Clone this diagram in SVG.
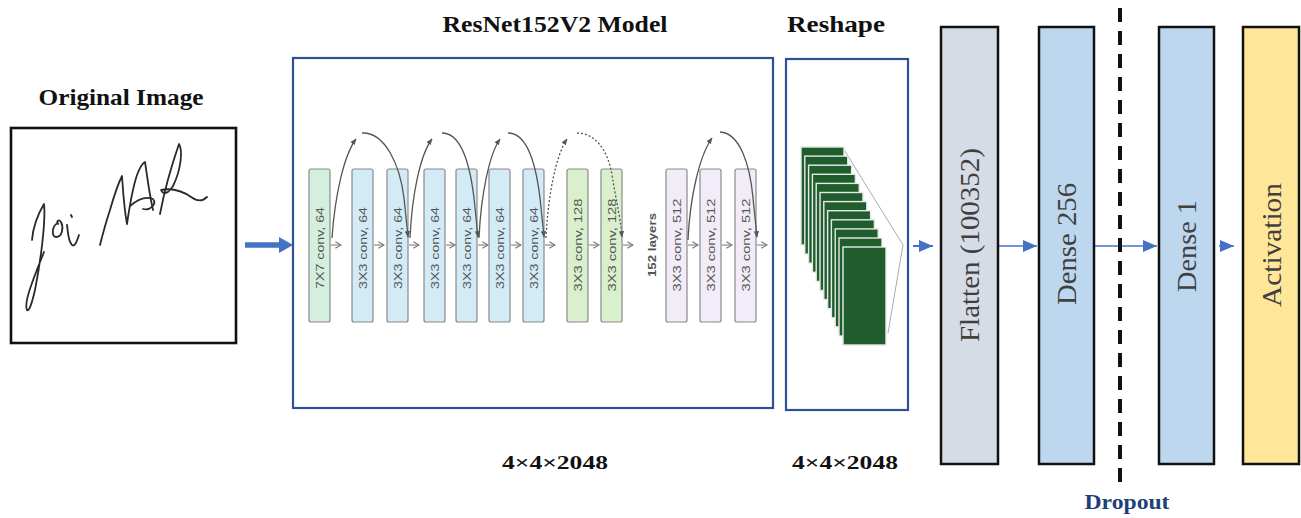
<svg xmlns="http://www.w3.org/2000/svg" width="1301" height="518" viewBox="0 0 1301 518">
<style>
.title{font-family:"Liberation Serif","Times New Roman",serif;font-weight:bold;fill:#111}
.big{font-family:"Liberation Serif","Times New Roman",serif;font-size:28px;fill:#404040}
.conv{font-family:"Liberation Sans",Arial,sans-serif;font-size:10.5px;fill:#555}
.blk{stroke:#8a8a8a;stroke-width:1.2}
.layer{fill:#1f5e2c;stroke:#e8e8e8;stroke-width:1.4}
.arc{fill:none;stroke:#555;stroke-width:1.3}
.small{fill:none;stroke:#777;stroke-width:1}
.outer{fill:#fff;stroke:#2f4f96;stroke-width:2.2}
.layerbox{stroke:#111;stroke-width:2.5}
</style>
<defs>
<marker id="ah" viewBox="0 0 10 10" refX="9" refY="5" markerWidth="5" markerHeight="5" orient="auto"><path d="M0,1 L10,5 L0,9 z" fill="#555"/></marker>
<marker id="sh" viewBox="0 0 10 10" refX="9" refY="5" markerWidth="8" markerHeight="8" markerUnits="userSpaceOnUse" orient="auto"><path d="M2,1 L9,5 L2,9" fill="none" stroke="#777" stroke-width="1.5"/></marker>
<marker id="bh" viewBox="0 0 10 10" refX="10" refY="5" markerWidth="14" markerHeight="12" markerUnits="userSpaceOnUse" orient="auto" preserveAspectRatio="none"><path d="M0,0 L10,5 L0,10 z" fill="#4472c4"/></marker>
</defs>

<g id="original-image">
<text class="title" x="121" y="105" font-size="23" text-anchor="middle" textLength="165" lengthAdjust="spacingAndGlyphs">Original Image</text>
<rect x="11" y="128" width="225" height="215" fill="#fff" stroke="#111" stroke-width="2.6"/>
<g fill="none" stroke="#2a2a2a" stroke-width="1.8" stroke-linecap="round" stroke-linejoin="round">
<path d="M32,240 C33,228 38,214 44,204 C46,222 40,265 35,290 C32,303 29,312 27,310 C25,306 28,294 32,283 C36,272 40,262 44,252"/>
<path d="M58,223 C52,225 51,237 56,237 C62,237 64,228 61,222 C59,219 56,221 58,224"/>
<path d="M67,225 C68,232 68,241 72,245 C75,247 77,241 79,235"/>
<path d="M71,215 l1,2"/>
<path d="M100,245 C103,233 106,222 110,210 C114,196 118,184 122,176 C123,190 124,208 127,224 C129,210 132,190 137,175 C140,167 143,163 145,162 C147,175 149,192 153,210"/>
<path d="M130,206 C137,200 146,196 153,199 C157,204 150,211 143,209"/>
<path d="M160,214 C163,198 170,170 179,144 C183,150 181,170 173,186 C168,194 163,195 161,190 C171,188 181,190 191,197 C198,202 203,201 207,197"/>
</g>
</g>

<g id="connectors">
<line x1="245" y1="245" x2="280" y2="245" stroke="#4472c4" stroke-width="5.5"/>
<path d="M279,237 L293,245 L279,253 z" fill="#4472c4"/>
<path d="M913,246 L933,246" stroke="#4472c4" stroke-width="2" marker-end="url(#bh)"/>
<path d="M999,246 L1037,246" stroke="#4472c4" stroke-width="1.5" marker-end="url(#bh)"/>
<path d="M1094,246 L1157,246" stroke="#4472c4" stroke-width="1.5" marker-end="url(#bh)"/>
<path d="M1219,246 L1234,246" stroke="#4472c4" stroke-width="1.5" marker-end="url(#bh)"/>
<line x1="1120" y1="8" x2="1120" y2="490" stroke="#111" stroke-width="4" stroke-dasharray="14,9"/>
</g>

<g id="resnet">
<text class="title" x="555" y="32" font-size="23" text-anchor="middle" textLength="225" lengthAdjust="spacingAndGlyphs">ResNet152V2 Model</text>
<rect class="outer" x="293" y="58" width="480" height="350"/>
<g id="conv-blocks">
<rect class="blk" x="309" y="169" width="21" height="153" rx="2" fill="#d5efdf"/>
<rect class="blk" x="352" y="169" width="21" height="153" rx="2" fill="#d3ebf6"/>
<rect class="blk" x="387" y="169" width="21" height="153" rx="2" fill="#d3ebf6"/>
<rect class="blk" x="424" y="169" width="21" height="153" rx="2" fill="#d3ebf6"/>
<rect class="blk" x="456" y="169" width="21" height="153" rx="2" fill="#d3ebf6"/>
<rect class="blk" x="489" y="169" width="21" height="153" rx="2" fill="#d3ebf6"/>
<rect class="blk" x="523" y="169" width="21" height="153" rx="2" fill="#d3ebf6"/>
<rect class="blk" x="567" y="169" width="21" height="153" rx="2" fill="#daf0cc"/>
<rect class="blk" x="601" y="169" width="21" height="153" rx="2" fill="#daf0cc"/>
<rect class="blk" x="666" y="169" width="21" height="153" rx="2" fill="#f1ecf7"/>
<rect class="blk" x="700" y="169" width="21" height="153" rx="2" fill="#f1ecf7"/>
<rect class="blk" x="735" y="169" width="21" height="153" rx="2" fill="#f1ecf7"/>
</g>
<g id="conv-labels">
<text class="conv" transform="translate(323.5,248) rotate(-90)" text-anchor="middle" textLength="82" lengthAdjust="spacingAndGlyphs">7X7 conv, 64</text>
<text class="conv" transform="translate(366.5,248) rotate(-90)" text-anchor="middle" textLength="82" lengthAdjust="spacingAndGlyphs">3X3 conv, 64</text>
<text class="conv" transform="translate(401.5,248) rotate(-90)" text-anchor="middle" textLength="82" lengthAdjust="spacingAndGlyphs">3X3 conv, 64</text>
<text class="conv" transform="translate(438.5,248) rotate(-90)" text-anchor="middle" textLength="82" lengthAdjust="spacingAndGlyphs">3X3 conv, 64</text>
<text class="conv" transform="translate(470.5,248) rotate(-90)" text-anchor="middle" textLength="82" lengthAdjust="spacingAndGlyphs">3X3 conv, 64</text>
<text class="conv" transform="translate(503.5,248) rotate(-90)" text-anchor="middle" textLength="82" lengthAdjust="spacingAndGlyphs">3X3 conv, 64</text>
<text class="conv" transform="translate(537.5,248) rotate(-90)" text-anchor="middle" textLength="82" lengthAdjust="spacingAndGlyphs">3X3 conv, 64</text>
<text class="conv" transform="translate(581.5,245) rotate(-90)" text-anchor="middle" textLength="93" lengthAdjust="spacingAndGlyphs">3X3 conv, 128</text>
<text class="conv" transform="translate(615.5,245) rotate(-90)" text-anchor="middle" textLength="93" lengthAdjust="spacingAndGlyphs">3X3 conv, 128</text>
<text class="conv" transform="translate(680.5,245) rotate(-90)" text-anchor="middle" textLength="93" lengthAdjust="spacingAndGlyphs">3X3 conv, 512</text>
<text class="conv" transform="translate(714.5,245) rotate(-90)" text-anchor="middle" textLength="93" lengthAdjust="spacingAndGlyphs">3X3 conv, 512</text>
<text class="conv" transform="translate(749.5,245) rotate(-90)" text-anchor="middle" textLength="93" lengthAdjust="spacingAndGlyphs">3X3 conv, 512</text>
<text class="conv" transform="translate(656,245) rotate(-90)" text-anchor="middle" font-weight="bold" fill="#333" textLength="64" lengthAdjust="spacingAndGlyphs">152 layers</text>
</g>
<g id="small-arrows">
<path class="small" d="M331,245 h10" marker-end="url(#sh)"/>
<path class="small" d="M374,245 h10" marker-end="url(#sh)"/>
<path class="small" d="M409,245 h10" marker-end="url(#sh)"/>
<path class="small" d="M446,245 h9" marker-end="url(#sh)"/>
<path class="small" d="M478,245 h10" marker-end="url(#sh)"/>
<path class="small" d="M511,245 h10" marker-end="url(#sh)"/>
<path class="small" d="M545,245 h10" marker-end="url(#sh)"/>
<path class="small" d="M589,245 h10" marker-end="url(#sh)"/>
<path class="small" d="M623,245 h10" marker-end="url(#sh)"/>
<path class="small" d="M688,245 h10" marker-end="url(#sh)"/>
<path class="small" d="M722,245 h10" marker-end="url(#sh)"/>
<path class="small" d="M757,245 h10" marker-end="url(#sh)"/>
</g>
<g id="skip-arcs">
<path class="arc" d="M332,238 C335,195 344,155 356,139" marker-end="url(#ah)"/>
<path class="arc" d="M362,133 C385,132 400,165 404,198 L408,237" marker-end="url(#ah)"/>
<path class="arc" d="M410,238 C412,195 420,155 432,139" marker-end="url(#ah)"/>
<path class="arc" d="M442,133 C462,133 470,165 474,198 L478,237" marker-end="url(#ah)"/>
<path class="arc" d="M479,238 C481,195 489,155 500,139" marker-end="url(#ah)"/>
<path class="arc" d="M508,133 C528,133 536,165 540,198 L544,237" marker-end="url(#ah)"/>
<path class="arc" d="M546,238 C548,195 556,155 567,139" stroke-dasharray="2,2" marker-end="url(#ah)"/>
<path class="arc" d="M577,133 C595,133 608,150 612,175 C616,200 620,215 622,237" stroke-dasharray="2,2" marker-end="url(#ah)"/>
<path class="arc" d="M688,240 C690,195 700,155 712,138" marker-end="url(#ah)"/>
<path class="arc" d="M720,132 C740,133 750,165 753,198 L757,237" marker-end="url(#ah)"/>
</g>
<text class="title" x="555" y="469" font-size="19" text-anchor="middle" textLength="106" lengthAdjust="spacingAndGlyphs">4×4×2048</text>
</g>

<g id="reshape">
<text class="title" x="836" y="32" font-size="23" text-anchor="middle" textLength="98" lengthAdjust="spacingAndGlyphs">Reshape</text>
<rect class="outer" x="786" y="59" width="122" height="351" stroke-width="2.6"/>
<g fill="none" stroke="#aaa" stroke-width="1"><path d="M843,148 L903,245 L888,333"/></g>
<rect class="layer" x="801" y="147" width="43" height="98"/>
<rect class="layer" x="804.8" y="156.1" width="43" height="98"/>
<rect class="layer" x="808.6" y="165.2" width="43" height="98"/>
<rect class="layer" x="812.4" y="174.3" width="43" height="98"/>
<rect class="layer" x="816.2" y="183.4" width="43" height="98"/>
<rect class="layer" x="820" y="192.5" width="43" height="98"/>
<rect class="layer" x="823.8" y="201.6" width="43" height="98"/>
<rect class="layer" x="827.6" y="210.7" width="43" height="98"/>
<rect class="layer" x="831.4" y="219.8" width="43" height="98"/>
<rect class="layer" x="835.2" y="228.9" width="43" height="98"/>
<rect class="layer" x="839" y="238" width="43" height="98"/>
<rect class="layer" x="843" y="247" width="43" height="98"/>
<text class="title" x="845" y="469" font-size="19" text-anchor="middle" textLength="106" lengthAdjust="spacingAndGlyphs">4×4×2048</text>
</g>

<g id="flatten">
<rect class="layerbox" x="941" y="27" width="57" height="437" fill="#d6dce5"/>
<text class="big" transform="translate(969.5,245) rotate(-90)" text-anchor="middle" dominant-baseline="central" textLength="194" lengthAdjust="spacingAndGlyphs">Flatten (100352)</text>
</g>
<g id="dense256">
<rect class="layerbox" x="1039" y="27" width="55" height="437" fill="#bdd7ee"/>
<text class="big" transform="translate(1066.5,244) rotate(-90)" text-anchor="middle" dominant-baseline="central" textLength="122" lengthAdjust="spacingAndGlyphs">Dense 256</text>
</g>
<g id="dense1">
<rect class="layerbox" x="1159" y="27" width="55" height="437" fill="#bdd7ee"/>
<text class="big" transform="translate(1186.5,246) rotate(-90)" text-anchor="middle" dominant-baseline="central" textLength="92" lengthAdjust="spacingAndGlyphs">Dense 1</text>
</g>
<g id="activation">
<rect class="layerbox" x="1243" y="27" width="56" height="437" fill="#ffe699"/>
<text class="big" transform="translate(1271,245) rotate(-90)" text-anchor="middle" dominant-baseline="central" textLength="124" lengthAdjust="spacingAndGlyphs">Activation</text>
</g>
<g id="dropout">
<text x="1127" y="509" font-family="'Liberation Serif','Times New Roman',serif" font-weight="bold" font-size="21" fill="#1f3f7a" text-anchor="middle" textLength="85" lengthAdjust="spacingAndGlyphs">Dropout</text>
</g>
</svg>
